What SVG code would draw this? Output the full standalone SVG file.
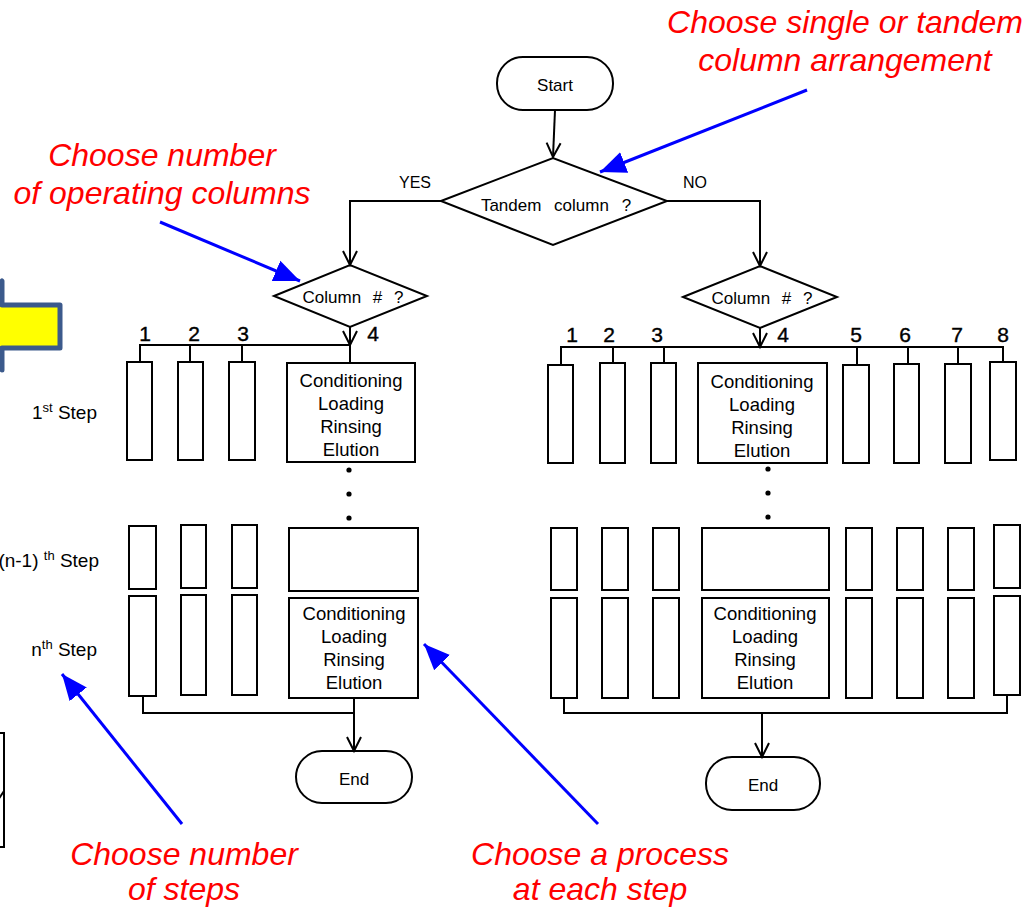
<svg xmlns="http://www.w3.org/2000/svg" width="1026" height="908" viewBox="0 0 1026 908">
<defs>
<marker id="open" markerUnits="userSpaceOnUse" markerWidth="20" markerHeight="20" viewBox="0 0 20 20" refX="16" refY="10" orient="auto">
<path d="M2,3 L16,10 L2,17" fill="none" stroke="#000" stroke-width="2"/>
</marker>
<marker id="blue" markerUnits="userSpaceOnUse" markerWidth="30" markerHeight="30" viewBox="0 0 30 30" refX="26" refY="15" orient="auto">
<path d="M0,4 L26,15 L0,26 Z" fill="#0000ff"/>
</marker>
<style>
.ln{fill:none;stroke:#000;stroke-width:2}
.bx{fill:#fff;stroke:#000;stroke-width:2}
.t{font-family:"Liberation Sans",Arial,sans-serif;fill:#000;text-anchor:middle}
.bt{font-family:"Liberation Sans",Arial,sans-serif;font-size:18.5px;fill:#000;text-anchor:middle}
.num{font-family:"Liberation Sans",Arial,sans-serif;font-size:21px;fill:#000;text-anchor:middle;stroke:#000;stroke-width:0.4}
.st{font-family:"Liberation Sans",Arial,sans-serif;font-size:19px;fill:#000;text-anchor:end}
.red{font-family:"Liberation Sans",Arial,sans-serif;font-size:32px;font-style:italic;fill:#ff0000;text-anchor:middle}
.bl{fill:none;stroke:#0000ff;stroke-width:3}
</style>
</defs>
<rect width="1026" height="908" fill="#fff"/>

<!-- left partial graphics -->
<polygon points="60,305 60,348 2,348 2,370 -40,326 2,281 2,305" fill="#ffff00" stroke="#3c5a8c" stroke-width="5" stroke-linejoin="round"/>
<rect x="-50" y="733" width="54" height="114" fill="#fff" stroke="#000" stroke-width="2"/>
<path d="M-2,800 L4,791" class="ln" stroke-width="1.5"/>

<!-- step labels -->
<text class="st" x="97" y="419">1<tspan font-size="13" dy="-7">st</tspan><tspan dy="7"> Step</tspan></text>
<text class="st" x="99" y="567">(n-1) <tspan font-size="13" dy="-7">th</tspan><tspan dy="7"> Step</tspan></text>
<text class="st" x="97" y="656">n<tspan font-size="13" dy="-7">th</tspan><tspan dy="7"> Step</tspan></text>

<!-- nodes -->
<g id="start">
<rect class="bx" x="497" y="57" width="116" height="53" rx="26"/>
<text class="t" x="555" y="91" font-size="17">Start</text>
</g>
<g id="tandem">
<polygon class="bx" points="441,201 553,158 667,201 553,245"/>
<text class="t" x="556" y="211" font-size="17" word-spacing="8">Tandem column ?</text>
</g>
<g id="colL">
<polygon class="bx" points="274,296 350,265 427,296 350,327"/>
<text class="t" x="353" y="303" font-size="17" word-spacing="7">Column # ?</text>
</g>
<g id="colR">
<polygon class="bx" points="683,297 760,266 837,297 760,328"/>
<text class="t" x="762" y="304" font-size="17" word-spacing="7">Column # ?</text>
</g>

<g id="labels">
<text class="t" x="415" y="188" font-size="16">YES</text>
<text class="t" x="695" y="188" font-size="16">NO</text>
<text class="num" x="145" y="341">1</text>
<text class="num" x="194" y="341">2</text>
<text class="num" x="243" y="341">3</text>
<text class="num" x="373" y="341">4</text>
<text class="num" x="572" y="342">1</text>
<text class="num" x="609" y="342">2</text>
<text class="num" x="657" y="342">3</text>
<text class="num" x="783" y="342">4</text>
<text class="num" x="856" y="342">5</text>
<text class="num" x="905" y="342">6</text>
<text class="num" x="957" y="342">7</text>
<text class="num" x="1003" y="342">8</text>
</g>

<!-- left 1st step -->
<g id="L1">
<rect class="bx" x="127" y="362" width="25" height="98"/>
<rect class="bx" x="178" y="362" width="25" height="98"/>
<rect class="bx" x="229" y="362" width="26" height="98"/>
<rect class="bx" x="287" y="363" width="128" height="99"/>
<text class="bt" x="351" y="387">Conditioning</text>
<text class="bt" x="351" y="410">Loading</text>
<text class="bt" x="351" y="433">Rinsing</text>
<text class="bt" x="351" y="456">Elution</text>
</g>
<!-- left n-1 -->
<g id="L2">
<rect class="bx" x="129" y="526" width="27" height="63"/>
<rect class="bx" x="181" y="525" width="25" height="63"/>
<rect class="bx" x="232" y="525" width="25" height="63"/>
<rect class="bx" x="289" y="528" width="129" height="63"/>
</g>
<!-- left n -->
<g id="L3">
<rect class="bx" x="129" y="596" width="27" height="100"/>
<rect class="bx" x="181" y="595" width="25" height="100"/>
<rect class="bx" x="232" y="595" width="25" height="100"/>
<rect class="bx" x="289" y="598" width="129" height="100"/>
<text class="bt" x="354" y="620">Conditioning</text>
<text class="bt" x="354" y="643">Loading</text>
<text class="bt" x="354" y="666">Rinsing</text>
<text class="bt" x="354" y="689">Elution</text>
</g>
<g id="endL">
<rect class="bx" x="296" y="751" width="116" height="52" rx="26"/>
<text class="t" x="354" y="785" font-size="17">End</text>
</g>

<!-- right 1st step -->
<g id="R1">
<rect class="bx" x="548" y="365" width="25" height="98"/>
<rect class="bx" x="600" y="363" width="25" height="100"/>
<rect class="bx" x="651" y="363" width="25" height="100"/>
<rect class="bx" x="698" y="363" width="129" height="100"/>
<text class="bt" x="762" y="388">Conditioning</text>
<text class="bt" x="762" y="411">Loading</text>
<text class="bt" x="762" y="434">Rinsing</text>
<text class="bt" x="762" y="457">Elution</text>
<rect class="bx" x="843" y="365" width="26" height="98"/>
<rect class="bx" x="894" y="364" width="25" height="99"/>
<rect class="bx" x="945" y="364" width="26" height="99"/>
<rect class="bx" x="990" y="362" width="26" height="98"/>
</g>
<!-- right n-1 -->
<g id="R2">
<rect class="bx" x="551" y="528" width="26" height="62"/>
<rect class="bx" x="602" y="528" width="26" height="62"/>
<rect class="bx" x="653" y="528" width="26" height="62"/>
<rect class="bx" x="702" y="528" width="127" height="62"/>
<rect class="bx" x="846" y="528" width="26" height="62"/>
<rect class="bx" x="897" y="528" width="26" height="62"/>
<rect class="bx" x="948" y="528" width="26" height="62"/>
<rect class="bx" x="994" y="525" width="26" height="63"/>
</g>
<!-- right n -->
<g id="R3">
<rect class="bx" x="551" y="598" width="26" height="100"/>
<rect class="bx" x="602" y="598" width="26" height="100"/>
<rect class="bx" x="653" y="598" width="26" height="100"/>
<rect class="bx" x="702" y="598" width="127" height="100"/>
<text class="bt" x="765" y="620">Conditioning</text>
<text class="bt" x="765" y="643">Loading</text>
<text class="bt" x="765" y="666">Rinsing</text>
<text class="bt" x="765" y="689">Elution</text>
<rect class="bx" x="846" y="598" width="26" height="100"/>
<rect class="bx" x="897" y="598" width="26" height="100"/>
<rect class="bx" x="948" y="598" width="26" height="100"/>
<rect class="bx" x="994" y="596" width="26" height="99"/>
</g>
<g id="endR">
<rect class="bx" x="706" y="757" width="114" height="53" rx="26"/>
<text class="t" x="763" y="791" font-size="17">End</text>
</g>

<!-- dots -->
<g id="dots" fill="#000">
<circle cx="349" cy="470" r="2.6"/><circle cx="349" cy="494" r="2.6"/><circle cx="349" cy="518" r="2.6"/>
<circle cx="768" cy="469" r="2.6"/><circle cx="768" cy="493" r="2.6"/><circle cx="768" cy="517" r="2.6"/>
</g>

<!-- connectors -->
<g id="connectors">
<path class="ln" d="M555,110 L553,157" marker-end="url(#open)"/>
<path class="ln" d="M441,201 L350,201 L350,265" marker-end="url(#open)"/>
<path class="ln" d="M667,201 L760,201 L760,266" marker-end="url(#open)"/>
<path class="ln" d="M350,327 L350,345" marker-end="url(#open)"/>
<path class="ln" d="M760,328 L760,347" marker-end="url(#open)"/>
<path class="ln" d="M140,362 L140,345 L350,345 L350,363 M190,345 L190,362 M242,345 L242,362"/>
<path class="ln" d="M561,365 L561,347 L1003,347 L1003,362 M613,347 L613,363 M664,347 L664,363 M857,347 L857,365 M908,347 L908,364 M958,347 L958,364"/>
<path class="ln" d="M143,696 L143,713 L354,713 L354,698"/>
<path class="ln" d="M354,713 L354,751" marker-end="url(#open)"/>
<path class="ln" d="M564,698 L564,713 L1007,713 L1007,695"/>
<path class="ln" d="M762,713 L762,757" marker-end="url(#open)"/>
</g>

<!-- annotations -->
<g id="annotations">
<text class="red" x="845" y="33" font-size="31.5">Choose single or tandem</text>
<text class="red" x="845" y="71" font-size="31.5">column arrangement</text>
<text class="red" x="162" y="166">Choose number</text>
<text class="red" x="162" y="204">of operating columns</text>
<text class="red" x="184" y="865">Choose number</text>
<text class="red" x="184" y="900">of steps</text>
<text class="red" x="600" y="865">Choose a process</text>
<text class="red" x="600" y="900">at each step</text>
<path class="bl" d="M807,90 L600,172" marker-end="url(#blue)"/>
<path class="bl" d="M160,222 L300,281" marker-end="url(#blue)"/>
<path class="bl" d="M182,824 L62,674" marker-end="url(#blue)"/>
<path class="bl" d="M598,824 L424,644" marker-end="url(#blue)"/>
</g>
</svg>
